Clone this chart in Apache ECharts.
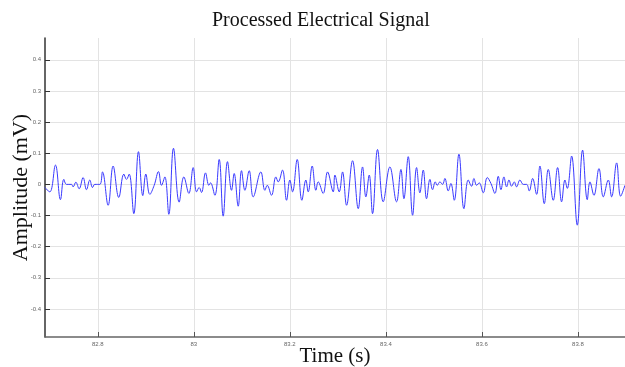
<!DOCTYPE html>
<html>
<head>
<meta charset="utf-8">
<script src="https://cdn.jsdelivr.net/npm/echarts@6/dist/echarts.min.js"></script>
<style>
  html, body { margin: 0; padding: 0; background: #fff; }
  #chart { width: 625px; height: 367px; }
</style>
</head>
<body>
<div id="chart"></div>
<script>
// time (s) of each peak / trough
const times = [
  82.6896, 82.7000, 82.7118, 82.7222, 82.7292, 82.7347, 82.7451, 82.7486, 82.7542, 82.7611,
  82.7694, 82.7764, 82.7833, 82.7889, 82.7937, 82.8042, 82.8097, 82.8215, 82.8319, 82.8437,
  82.8542, 82.8597, 82.8653, 82.8750, 82.8847, 82.8937, 82.9000, 82.9083, 82.9174, 82.9264,
  82.9326, 82.9396, 82.9479, 82.9576, 82.9694, 82.9792, 82.9896,
  82.9986, 83.0056, 83.0111, 83.0160, 83.0243, 83.0313, 83.0347, 83.0438, 83.0528, 83.0611,
  83.0701, 83.0785, 83.0840, 83.0924, 83.0993, 83.1063, 83.1153, 83.1236, 83.1396, 83.1479,
  83.1528, 83.1618, 83.1708, 83.1757, 83.1847, 83.1931, 83.2000, 83.2056, 83.2153, 83.2250,
  83.2333, 83.2382, 83.2465, 83.2542, 83.2590, 83.2694, 83.2785, 83.2903, 83.2938, 83.3028,
  83.3097, 83.3181, 83.3306, 83.3424, 83.3514, 83.3583, 83.3653, 83.3722, 83.3826, 83.3944,
  83.4083, 83.4222, 83.4313, 83.4375, 83.4465, 83.4556, 83.4639, 83.4708, 83.4778, 83.4847,
  83.4917, 83.4972, 83.5028, 83.5069, 83.5125, 83.5181, 83.5229, 83.5299, 83.5354, 83.5424,
  83.5521, 83.5625, 83.5715, 83.5785, 83.5833, 83.5889, 83.5944, 83.6028, 83.6111,
  83.6188, 83.6271, 83.6340, 83.6396, 83.6458, 83.6514, 83.6563, 83.6618, 83.6674, 83.6722,
  83.6792, 83.6861, 83.6931, 83.6986, 83.7056, 83.7139, 83.7208, 83.7299, 83.7382, 83.7486,
  83.7576, 83.7660, 83.7729, 83.7778, 83.7868, 83.7986, 83.8097, 83.8194, 83.8250, 83.8333,
  83.8438, 83.8528, 83.8632, 83.8701, 83.8806, 83.8889, 83.8979
];

// amplitude (mV) at those times
const amplitude = [
  -0.010, -0.024, 0.062, -0.049, 0.016, 0.000, 0.000, -0.008, 0.007, -0.014,
  0.022, -0.017, 0.014, -0.010, 0.000, 0.000, 0.040, -0.067, 0.059, -0.042,
  0.033, 0.016, 0.033, -0.094, 0.105, -0.036, 0.033, -0.032, -0.003, 0.041,
  -0.003, 0.024, -0.096, 0.116, -0.057, 0.024, -0.029,
  0.054, -0.024, -0.010, -0.026, 0.037, -0.003, 0.005, -0.035, 0.080, -0.102,
  0.073, -0.019, 0.035, -0.070, 0.044, -0.019, 0.044, -0.040, 0.040, -0.019,
  -0.003, -0.035, 0.024, 0.008, 0.046, -0.051, 0.014, -0.024, 0.080, -0.051,
  0.014, -0.024, 0.059, -0.019, 0.008, -0.029, 0.040, -0.024, 0.030, -0.024,
  0.040, -0.067, 0.076, -0.078, 0.056, -0.040, 0.030, -0.094, 0.112, -0.056,
  0.056, -0.056, 0.048, -0.046, 0.089, -0.099, 0.054, -0.027, 0.046, -0.046,
  0.016, -0.017, 0.008, -0.003, 0.008, 0.000, 0.019, -0.021, 0.003, -0.051,
  0.097, -0.078, 0.014, -0.006, 0.019, -0.003, 0.005, -0.027, 0.022,
  0.003, -0.029, 0.026, -0.017, 0.024, -0.008, 0.014, -0.006, 0.008, -0.008,
  0.014, 0.000, 0.000, -0.021, 0.019, -0.032, 0.059, -0.062, 0.048, -0.051,
  0.054, -0.056, 0.014, -0.013, 0.091, -0.131, 0.110, -0.049, 0.008, -0.035,
  0.051, -0.040, 0.014, -0.040, 0.069, -0.038, -0.003
];

const xMin = 82.69;
const xMax = 83.898;
const yMin = -0.49;
const yMax = 0.47;

const chart = echarts.init(document.getElementById("chart"), null, { renderer: "canvas" });

const serif = "'Liberation Serif', 'DejaVu Serif', serif";
const tickFont = { fontSize: 6, color: "#666", fontFamily: "'Liberation Sans', sans-serif" };

const option = {
  animation: false,
  title: {
    text: "Processed Electrical Signal",
    left: 212,
    top: 11,
    padding: 0,
    textStyle: { fontFamily: serif, fontSize: 20, fontWeight: "normal", color: "#111" },
  },
  grid: { left: 45, right: 0, top: 38, bottom: 30, containLabel: false, outerBoundsMode: "none" },
  xAxis: {
    type: "value",
    min: xMin,
    max: xMax,
    name: "Time (s)",
    nameLocation: "middle",
    nameGap: 9,
    nameMoveOverlap: false,
    nameTextStyle: { fontFamily: serif, fontSize: 21, color: "#111" },
    axisLine: { onZero: false, lineStyle: { color: "#666", width: 1.5 } },
    axisTick: { inside: true, length: 5, lineStyle: { color: "#555" } },
    axisLabel: { ...tickFont, margin: 4, showMinLabel: false, showMaxLabel: false },
    splitLine: {
      show: true,
      showMinLine: false,
      showMaxLine: false,
      lineStyle: { color: "#e3e3e3", width: 1 },
    },
  },
  yAxis: {
    type: "value",
    min: yMin,
    max: yMax,
    splitNumber: 10,
    name: "Amplitude (mV)",
    nameLocation: "middle",
    nameGap: 13,
    nameMoveOverlap: false,
    nameTextStyle: { fontFamily: serif, fontSize: 22, color: "#111" },
    axisLine: { show: true, onZero: false, lineStyle: { color: "#333", width: 1.5 } },
    axisTick: { show: true, inside: true, length: 5, lineStyle: { color: "#333" } },
    axisLabel: { ...tickFont, margin: 4, showMinLabel: false, showMaxLabel: false },
    splitLine: {
      show: true,
      showMinLine: false,
      showMaxLine: false,
      lineStyle: { color: "#e3e3e3", width: 1 },
    },
  },
  series: [
    {
      type: "line",
      data: times.map((t, i) => [t, amplitude[i]]),
      showSymbol: false,
      smooth: 0.4,
      lineStyle: { color: "#3a3aff", width: 1 },
    },
  ],
};

chart.setOption(option);
</script>
</body>
</html>
